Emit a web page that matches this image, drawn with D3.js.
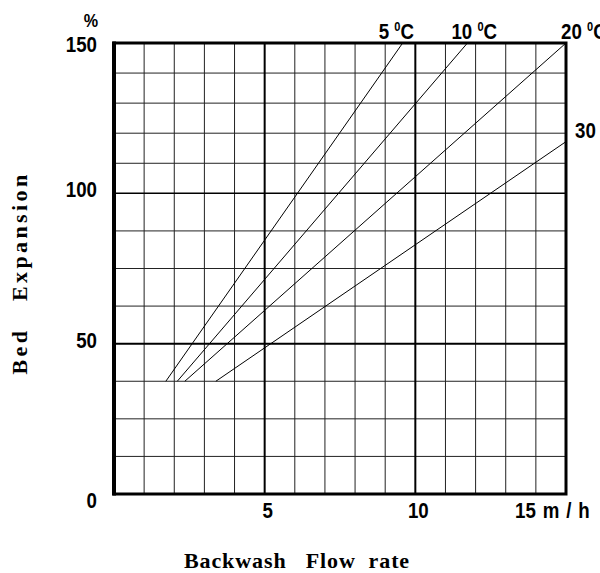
<!DOCTYPE html>
<html>
<head>
<meta charset="utf-8">
<script src="https://cdn.jsdelivr.net/npm/d3@7"></script>
<style>
  body { margin: 0; background: #fff; }
  svg { display: block; }
  .num { font-family: "Liberation Sans", Arial, sans-serif; font-weight: bold; font-size: 22px; fill: #000; }
  .title { font-family: "Liberation Serif", "Times New Roman", serif; font-weight: bold; font-size: 22px; fill: #000; white-space: pre; }
</style>
</head>
<body>
<svg width="600" height="573"></svg>
<script>
  const svg = d3.select('svg');

  // grid positions (m/h and %)
  const xGrid = [1, 2, 3, 4, 6, 7, 8, 9, 11, 12, 13, 14];
  const yGrid = [12.5, 25, 37.5, 62.5, 75, 87.5, 110, 120, 130, 140];

  const yTicks = [0, 50, 100, 150];
  const xTicks = [5, 10, 15];
  const xTickLabels = ['5', '10', '15 m / h'];

  // curves: one straight line per temperature
  const temps = ['5', '10', '20', '30'];
  const startX = [1.72, 2.1, 2.35, 3.38];
  const startY = [37.5, 37.5, 37.5, 37.5];
  const endX = [9.58, 11.73, 15, 15];
  const endY = [150, 150, 150, 117.2];

  const x = d3.scaleLinear().domain([0, 15]).range([114, 566]);
  const y = d3.scaleLinear().domain([0, 150]).range([494, 43]);

  const narrow = (px, py) => `translate(${px},${py}) scale(0.85,1)`;

  const g = svg.append('g');

  // thin grid
  g.selectAll('line.vg')
    .data(xGrid)
    .enter().append('line')
      .attr('x1', d => x(d)).attr('x2', d => x(d))
      .attr('y1', y(0)).attr('y2', y(150))
      .attr('stroke', '#222').attr('stroke-width', 1);

  g.selectAll('line.hg')
    .data(yGrid)
    .enter().append('line')
      .attr('y1', d => y(d)).attr('y2', d => y(d))
      .attr('x1', x(0)).attr('x2', x(15))
      .attr('stroke', '#222').attr('stroke-width', 1);

  // heavier lines at 5, 10 and 50, 100
  g.selectAll('line.vm')
    .data([5, 10])
    .enter().append('line')
      .attr('x1', d => x(d)).attr('x2', d => x(d))
      .attr('y1', y(0)).attr('y2', y(150))
      .attr('stroke', '#000').attr('stroke-width', 2);

  g.selectAll('line.hm')
    .data([50, 100])
    .enter().append('line')
      .attr('y1', d => y(d)).attr('y2', d => y(d))
      .attr('x1', x(0)).attr('x2', x(15))
      .attr('stroke', '#000').attr('stroke-width', d => d === 50 ? 2 : 1.5);

  // frame
  g.append('rect')
    .attr('x', x(0)).attr('y', y(150))
    .attr('width', x(15) - x(0)).attr('height', y(0) - y(150))
    .attr('fill', 'none').attr('stroke', '#000').attr('stroke-width', 3);
  g.append('line')
    .attr('x1', x(0)).attr('x2', x(0))
    .attr('y1', y(150) - 1.5).attr('y2', y(0) + 1.5)
    .attr('stroke', '#000').attr('stroke-width', 4);

  // curves
  const lineGen = d3.line().x(d => x(d[0])).y(d => y(d[1]));
  const curves = temps.map((t, i) => ({
    t: t,
    pts: [[startX[i], startY[i]], [endX[i], endY[i]]]
  }));

  g.selectAll('path.curve')
    .data(curves)
    .enter().append('path')
      .attr('d', d => lineGen(d.pts))
      .attr('fill', 'none')
      .attr('stroke', '#000')
      .attr('stroke-width', 1);

  // curve labels
  const labelDx = [-24, -16, -5, 9];
  const lab = g.selectAll('text.clab')
    .data(curves)
    .enter().append('text')
      .attr('class', 'num')
      .attr('transform', (d, i) => narrow(x(d.pts[1][0]) + labelDx[i], y(d.pts[1][1]) - 4));
  lab.append('tspan').text(d => d.t + ' ');
  lab.append('tspan').attr('font-size', 13).attr('dy', -8).text('0');
  lab.append('tspan').attr('dy', 8).text('C');

  // y tick labels
  g.selectAll('text.ytick')
    .data(yTicks)
    .enter().append('text')
      .attr('class', 'num')
      .attr('text-anchor', 'end')
      .attr('transform', d => narrow(97, y(d) + (d === 0 ? 14 : d === 150 ? 9 : 4)))
      .text(d => d);

  g.append('text')
    .attr('class', 'num')
    .attr('text-anchor', 'middle')
    .attr('transform', narrow(91, 27))
    .style('font-size', '19px')
    .text('%');

  // x tick labels
  g.selectAll('text.xtick')
    .data(xTicks)
    .enter().append('text')
      .attr('class', 'num')
      .attr('text-anchor', (d, i) => i === 2 ? 'start' : 'middle')
      .attr('transform', (d, i) => narrow(i === 2 ? x(d) - 51 : x(d) + 3, 518))
      .attr('word-spacing', 2)
      .text((d, i) => xTickLabels[i]);

  // axis titles
  g.append('text')
    .attr('class', 'title')
    .attr('x', 297).attr('y', 568)
    .attr('text-anchor', 'middle')
    .attr('letter-spacing', 0.9)
    .text('Backwash   Flow  rate');

  g.append('text')
    .attr('class', 'title')
    .attr('transform', 'translate(27,273) rotate(-90)')
    .attr('text-anchor', 'middle')
    .attr('letter-spacing', 3.4)
    .text('Bed   Expansion');
</script>
</body>
</html>
